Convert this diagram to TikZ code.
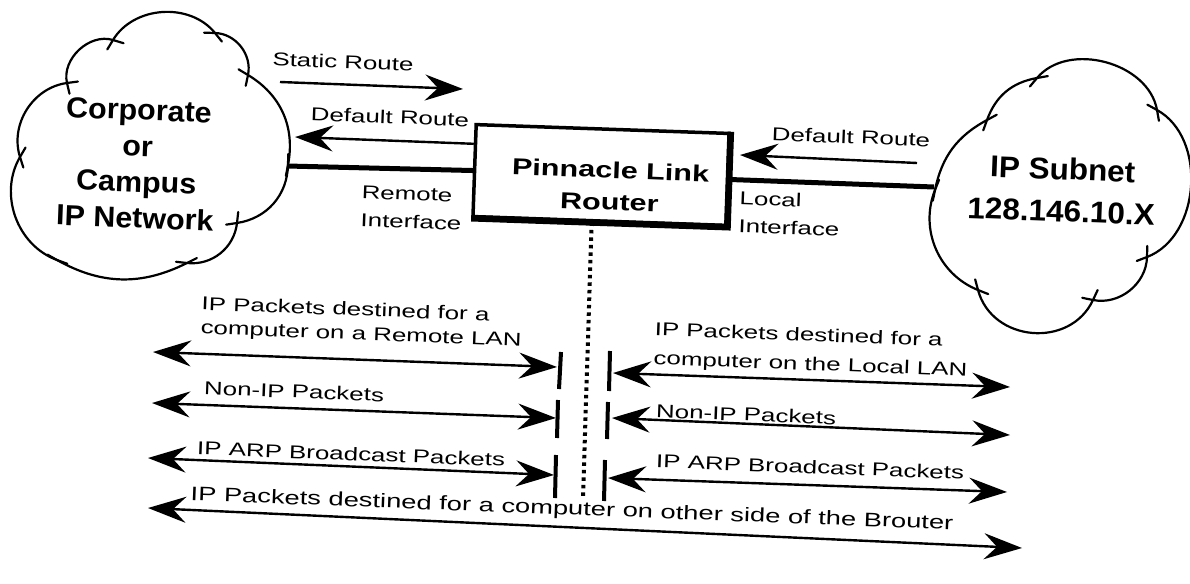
\documentclass[tikz,border=0pt]{standalone}
\usepackage{fontspec}
\setmainfont{Liberation Sans}
\newfontfamily\lblfont{Liberation Sans}[FakeStretch=1.4]
\newfontfamily\rtrfont{Liberation Sans}[FakeStretch=1.33]
\newfontfamily\cldfont{Liberation Sans}[FakeStretch=1.05]
\usetikzlibrary{arrows.meta,calc}
\newcommand\cbump[4][1]{%
  \draw[cloudline] let \p1=#2, \p2=#3, \n1={atan2(\y2-\y1,\x2-\x1)} in
    ($(\p1)+(\n1+#4+180:11pt)$) -- (\p1) to[bend left=#4, looseness=#1] (\p2) -- ($(\p2)+(\n1-#4:11pt)$);}
\begin{document}
\begin{tikzpicture}[x=1pt,y=-1pt,
  every node/.append style={inner sep=0pt},
  tilt/.style={rotate=-2.2},
  lbl/.style={tilt, font=\lblfont\fontsize{18.5}{24}\selectfont},
  cloudtxt/.style={tilt, font=\cldfont\bfseries\fontsize{29}{36}\selectfont, align=center},
  cloudline/.style={line width=2.2pt, line cap=round},
  thickln/.style={line width=5pt},
  tipa/.tip={Stealth[length=38pt,width=26pt,inset=13pt]},
  arr/.style={line width=2.4pt, -tipa},
  dbl/.style={line width=2.4pt, tipa-tipa},
  bar/.style={line width=4pt},
  dots/.style={line width=4pt, dash pattern=on 3.5pt off 4pt},
]
\fill[white] (0,0) rectangle (1190,583);
\useasboundingbox (0,0) rectangle (1190,583);

% left cloud
\coordinate (L1) at (20,157);
\coordinate (L2) at (67,83);
\coordinate (L3) at (113,40);
\coordinate (L4) at (215,33);
\coordinate (L5) at (248,75);
\coordinate (L6) at (288,165);
\coordinate (L7) at (237,223);
\coordinate (L8) at (187,263);
\coordinate (L9) at (57,260);
\cbump{(L1)}{(L2)}{50}
\cbump{(L2)}{(L3)}{60}
\cbump{(L3)}{(L4)}{55}
\cbump{(L4)}{(L5)}{50}
\cbump{(L5)}{(L6)}{35}
\cbump{(L6)}{(L7)}{40}
\cbump{(L7)}{(L8)}{45}
\cbump{(L8)}{(L9)}{28}
\cbump{(L9)}{(L1)}{50}

% right cloud
\coordinate (R1) at (987,120);
\coordinate (R2) at (1037,78);
\coordinate (R3) at (1157,110);
\coordinate (R4) at (1147,257);
\coordinate (R5) at (1093,300);
\coordinate (R6) at (978,290);
\coordinate (R7) at (935,190);
\cbump{(R1)}{(R2)}{30}
\cbump{(R2)}{(R3)}{65}
\cbump{(R3)}{(R4)}{65}
\cbump{(R4)}{(R5)}{50}
\cbump[1.2]{(R5)}{(R6)}{70}
\cbump{(R6)}{(R7)}{45}
\cbump{(R7)}{(R1)}{25}

\node[cloudtxt] (lnet) at (137,164) {Corporate\\or\\Campus\\IP Network};
\node[cloudtxt, font=\cldfont\bfseries\fontsize{30}{42}\selectfont] (snet) at (1062,190) {IP Subnet\\128.146.10.X};

% router
\node[rotate=-2, draw, line width=3.5pt, minimum width=253pt, minimum height=92pt] (router) at (601,175) {};
\draw[line width=6.5pt] (router.north east) -- (router.south east) -- (router.south west);
\node[tilt, font=\rtrfont\bfseries\fontsize{23}{32}\selectfont, align=center] (rtxt) at (610,186) {Pinnacle Link\\Router};

% top labels
\node[lbl] (static) at (343,62) {Static Route};
\node[lbl] (defl) at (390,117) {Default Route};
\node[lbl] (defr) at (851,137) {Default Route};
\node[lbl, align=left, anchor=west, font=\lblfont\fontsize{18.5}{28}\selectfont] (remote) at (361,206) {Remote\\Interface};
\node[lbl, align=left, anchor=west, font=\lblfont\fontsize{18.5}{28}\selectfont] (local) at (739,212) {Local\\Interface};

% top connectors
\coordinate (lcR) at (287,166);
\coordinate (rcL) at (934,187);
\coordinate (sr1) at (280,82);
\coordinate (sr2) at (463,89);
\coordinate (dl1) at ($(router.north west)!0.22!(router.south west)$);
\coordinate (dl2) at (295,137);
\coordinate (dr1) at (917,163);
\coordinate (dr2) at (740,155);
\draw[thickln] (lcR) -- (router.west);
\draw[thickln] (router.east) -- (rcL);
\draw[arr] (sr1) -- (sr2);
\draw[arr] (dl1) -- (dl2);
\draw[arr] (dr1) -- (dr2);

% dotted line
\coordinate (dtop) at ($(router.south west)!0.47!(router.south east)$);
\coordinate (dbot) at (583,497);
\draw[dots] (dtop) -- (dbot);

% bars
\coordinate (b1lt) at (561,352); \coordinate (b1lb) at (559,389);
\coordinate (b2lt) at (558,400); \coordinate (b2lb) at (557,438);
\coordinate (b3lt) at (556,455); \coordinate (b3lb) at (555,498);
\coordinate (b1rt) at (610,351); \coordinate (b1rb) at (609,391);
\coordinate (b2rt) at (608,402); \coordinate (b2rb) at (607,439);
\coordinate (b3rt) at (605,460); \coordinate (b3rb) at (604,501);
\draw[bar] (b1lt) -- (b1lb);
\draw[bar] (b2lt) -- (b2lb);
\draw[bar] (b3lt) -- (b3lb);
\draw[bar] (b1rt) -- (b1rb);
\draw[bar] (b2rt) -- (b2rb);
\draw[bar] (b3rt) -- (b3rb);

% lower arrows
\coordinate (a1l) at (153,352); \coordinate (a1r) at (557,367);
\coordinate (a2l) at (152,403); \coordinate (a2r) at (556,418);
\coordinate (a3l) at (148,458); \coordinate (a3r) at (554,475);
\coordinate (c1l) at (613,373); \coordinate (c1r) at (1010,387);
\coordinate (c2l) at (612,418); \coordinate (c2r) at (1010,435);
\coordinate (c3l) at (608,478); \coordinate (c3r) at (1007,492);
\coordinate (d1l) at (148,508); \coordinate (d1r) at (1022,548);
\draw[dbl] (a1l) -- (a1r);
\draw[dbl] (a2l) -- (a2r);
\draw[dbl] (a3l) -- (a3r);
\draw[dbl] (c1l) -- (c1r);
\draw[dbl] (c2l) -- (c2r);
\draw[dbl] (c3l) -- (c3r);
\draw[dbl] (d1l) -- (d1r);

% lower labels
\node[lbl, align=left, anchor=west] (t1l) at (201,317) {IP Packets destined for a\\computer on a Remote LAN};
\node[lbl, anchor=west] (t2l) at (204,388) {Non-IP Packets};
\node[lbl, anchor=west] (t3l) at (197,448) {IP ARP Broadcast Packets};
\node[lbl, align=left, anchor=west, font=\lblfont\fontsize{18.5}{29}\selectfont] (t1r) at (654,345) {IP Packets destined for a\\computer on the Local LAN};
\node[lbl, anchor=west] (t2r) at (656,411) {Non-IP Packets};
\node[lbl, anchor=west] (t3r) at (656,461) {IP ARP Broadcast Packets};
\node[lbl, font=\lblfont\fontsize{19.5}{23}\selectfont] (t4) at (572,510) {IP Packets destined for a computer on other side of the Brouter};
\end{tikzpicture}
\end{document}
